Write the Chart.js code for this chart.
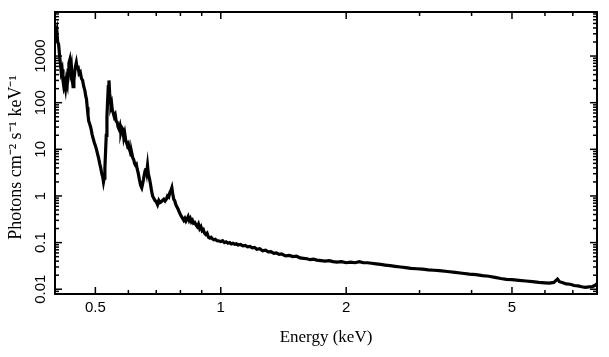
<!DOCTYPE html>
<html><head><meta charset="utf-8">
<script src="https://cdn.jsdelivr.net/npm/chart.js@4/dist/chart.umd.min.js"></script>
<style>html,body{margin:0;padding:0;background:#fff}#wrap{width:609px;height:357px}</style>
</head><body><div id="wrap"><canvas id="c" width="609" height="357"></canvas></div>
<script>
// Energy (keV) and flux (photons cm^-2 s^-1 keV^-1)
const energies = [
0.400,0.402,0.404,0.406,0.408,0.410,0.412,0.414,0.416,0.418,0.420,0.422,0.424,0.426,0.428,0.430,0.432,0.434,0.436,0.438,
0.440,0.442,0.444,0.446,0.448,0.450,0.452,0.454,0.457,0.460,0.463,0.466,0.469,0.472,0.474,0.476,0.478,0.480,0.482,0.485,
0.488,0.491,0.494,0.497,0.500,0.503,0.506,0.509,0.512,0.515,0.518,0.521,0.523,0.525,0.527,0.529,0.531,0.533,0.535,0.537,
0.539,0.541,0.543,0.545,0.547,0.549,0.552,0.555,0.558,0.561,0.564,0.567,0.570,0.573,0.576,0.579,0.582,0.585,0.588,0.591,
0.594,0.597,0.600,0.603,0.606,0.609,0.612,0.615,0.618,0.621,0.624,0.627,0.630,0.634,0.638,0.642,0.646,0.649,0.652,0.655,
0.658,0.661,0.664,0.667,0.670,0.674,0.678,0.682,0.686,0.690,0.695,0.700,0.705,0.710,0.715,0.720,0.725,0.730,0.735,0.740,
0.745,0.750,0.755,0.759,0.763,0.767,0.771,0.775,0.780,0.785,0.790,0.795,0.800,0.805,0.810,0.815,0.820,0.825,0.830,0.835,0.840,
0.845,0.850,0.855,0.860,0.866,0.872,0.878,0.884,0.890,0.896,0.902,0.908,0.914,0.920,0.927,0.934,0.941,0.948,0.955,0.962,
0.970,0.980,0.990,
1.00,1.01,1.02,1.03,1.04,1.05,1.06,1.07,1.08,1.09,1.10,1.115,1.13,1.145,1.16,1.175,1.19,1.205,1.22,1.24,
1.26,1.28,1.30,1.32,1.34,1.36,1.38,1.40,1.43,1.46,1.49,1.52,1.55,1.58,1.61,1.64,1.67,1.70,1.74,1.78,
1.82,1.86,1.90,1.95,2.00,2.05,2.10,2.15,2.20,2.25,2.30,2.36,2.42,2.48,2.55,2.62,2.70,2.78,2.86,2.95,
3.05,3.15,3.25,3.35,3.50,3.65,3.80,3.95,4.10,4.25,4.40,4.55,4.70,4.85,5.00,5.20,5.40,5.60,5.80,6.00,
6.15,6.30,6.38,6.43,6.50,6.60,6.75,6.90,7.05,7.20,7.35,7.50,7.65,7.80,7.90,8.00
];
const flux = [
4200,3000,3600,2000,1800,1100,700,450,520,300,220,260,200,300,250,500,700,820,480,600,
320,220,300,450,600,720,550,620,420,450,330,300,220,180,140,120,80,55,40,34,
28,21,17,14,12,10,8,6.5,5,4,3,2.5,2.0,2.4,4,9,20,50,110,220,
300,160,120,85,95,70,60,50,55,40,38,30,27,32,24,29,27,18,22,16,
14,12,13,10,9,7.5,8,6.5,6,5,4.6,4.8,3.8,3,2.2,1.7,1.5,1.8,2.2,2.8,
3.4,4.0,3.2,4.5,3,2.4,1.8,1.3,1.0,0.9,0.8,0.75,0.65,0.8,0.72,0.75,0.8,0.85,0.78,0.85,
1.0,0.95,1.2,1.3,1.5,1.1,0.85,0.8,0.65,0.58,0.52,0.45,0.4,0.36,0.33,0.3,0.33,0.29,0.32,0.36,0.3,
0.33,0.28,0.3,0.26,0.27,0.24,0.22,0.25,0.2,0.22,0.18,0.19,0.16,0.15,0.16,0.13,0.125,0.13,0.12,0.115,
0.118,0.11,0.108,
0.105,0.11,0.1,0.104,0.097,0.1,0.094,0.097,0.092,0.094,0.089,0.091,0.085,0.087,0.081,0.083,0.077,0.079,0.072,0.074,
0.067,0.069,0.063,0.064,0.059,0.06,0.056,0.057,0.052,0.053,0.05,0.051,0.047,0.046,0.045,0.043,0.044,0.042,0.041,0.04,
0.041,0.039,0.038,0.039,0.037,0.038,0.037,0.039,0.037,0.037,0.036,0.035,0.034,0.033,0.032,0.031,0.030,0.029,0.028,0.0275,
0.027,0.026,0.0255,0.025,0.024,0.023,0.022,0.021,0.0205,0.0195,0.019,0.018,0.017,0.0163,0.016,0.0155,0.015,0.0145,0.014,0.0137,
0.0135,0.014,0.0155,0.0165,0.0145,0.014,0.013,0.0128,0.012,0.0118,0.0113,0.011,0.0112,0.0114,0.012,0.013
];
const xTickValues = [0.5, 1, 2, 5];
const xMinorValues = [0.6, 0.7, 0.8, 0.9, 3, 4, 6, 7, 8];
const yTickValues = [0.01, 0.1, 1, 10, 100, 1000];
const xRange = [0.4, 8];
const yRange = [0.0079, 8800];
const xTitle = 'Energy (keV)';
const yTitle = 'Photons cm\u207B\u00B2 s\u207B\u00B9 keV\u207B\u00B9\u00A0\u00A0';

const framePlugin = {
  id: 'frame',
  afterDraw(chart) {
    const {ctx, chartArea: a, scales: {x, y}} = chart;
    ctx.save();
    ctx.strokeStyle = '#000';
    const seg = (x1, y1, x2, y2) => { ctx.beginPath(); ctx.moveTo(x1, y1); ctx.lineTo(x2, y2); ctx.stroke(); };
    ctx.lineWidth = 1.5;
    const xt = (v, len) => { const p = x.getPixelForValue(v); seg(p, a.bottom, p, a.bottom - len); seg(p, a.top, p, a.top + len); };
    const yt = (v, len) => { const p = y.getPixelForValue(v); seg(a.left, p, a.left + len, p); seg(a.right, p, a.right - len, p); };
    xTickValues.forEach(v => xt(v, 7));
    xMinorValues.forEach(v => { if (v > xRange[0] && v < xRange[1]) xt(v, 4); });
    for (let d = 0.001; d <= 1000; d *= 10) {
      for (let k = 1; k <= 9; k++) {
        const v = +(k * d).toPrecision(3);
        if (v <= yRange[0] || v >= yRange[1]) continue;
        yt(v, k === 1 ? 7 : 4);
      }
    }
    ctx.lineWidth = 2;
    ctx.strokeRect(a.left, a.top, a.right - a.left, a.bottom - a.top);
    ctx.restore();
  }
};

new Chart(document.getElementById('c'), {
  type: 'line',
  data: {
    datasets: [{
      data: energies.map((e, i) => ({x: e, y: flux[i]})),
      borderColor: '#000',
      borderWidth: 3.2,
      pointRadius: 0,
      tension: 0,
      fill: false
    }]
  },
  options: {
    responsive: false,
    animation: false,
    devicePixelRatio: 1,
    layout: {padding: {top: 12, right: 12, left: 0, bottom: 0}},
    plugins: {legend: {display: false}, tooltip: {enabled: false}},
    scales: {
      x: {
        type: 'logarithmic', min: xRange[0], max: xRange[1],
        afterBuildTicks: s => { s.ticks = xTickValues.map(v => ({value: v})); },
        afterFit: s => { s.height = 63; },
        grid: {display: false, drawTicks: false}, border: {display: false},
        ticks: {autoSkip: false, maxRotation: 0, minRotation: 0, padding: 5, color: '#000',
          font: {family: 'Liberation Sans', size: 15}, callback: v => String(v)},
        title: {display: true, text: xTitle, color: '#000', font: {family: 'Liberation Serif', size: 17},
          padding: {top: 0, bottom: 9}}
      },
      y: {
        type: 'logarithmic', min: yRange[0], max: yRange[1],
        afterBuildTicks: s => { s.ticks = yTickValues.map(v => ({value: v})); },
        afterFit: s => { s.width = 55; },
        grid: {display: false, drawTicks: false}, border: {display: false},
        ticks: {autoSkip: false, minRotation: 90, maxRotation: 90, crossAlign: 'center', padding: -3, color: '#000',
          font: {family: 'Liberation Sans', size: 15}, callback: v => String(v)},
        title: {display: true, text: yTitle, color: '#000', font: {family: 'Liberation Serif', size: 18},
          padding: {top: 5, bottom: 0}}
      }
    }
  },
  plugins: [framePlugin]
});
</script>
</body></html>
